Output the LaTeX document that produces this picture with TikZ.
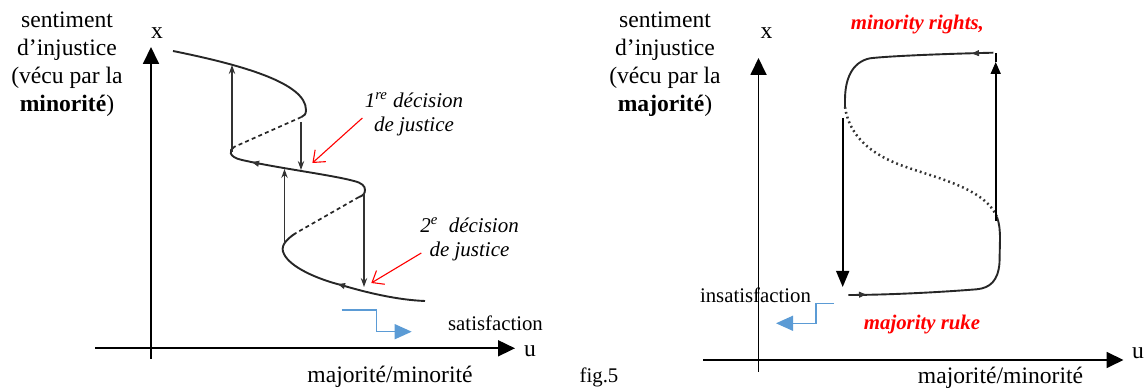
\documentclass[tikz,border=0pt]{standalone}
\usepackage{fontspec}
\setmainfont{Liberation Serif}
\usetikzlibrary{arrows.meta, positioning}

\definecolor{stepblue}{RGB}{91,155,213}

\begin{document}
\begin{tikzpicture}[
    x=0.5pt, y=0.5pt,
    axis/.style={line width=0.9pt, -{Triangle[length=8.5pt, width=8pt]}},
    curve/.style={line width=0.95pt, draw=black!85},
    hidden/.style={line width=0.85pt, draw=black!85, dash pattern=on 2pt off 1.6pt},
    dots/.style={line width=1.25pt, draw=black!80, dash pattern=on 0.9pt off 1.6pt},
    jump/.style={line width=0.65pt, draw=black!80, -{Stealth[length=4.5pt, width=3.2pt]}},
    bigjump/.style={line width=0.8pt, -{Triangle[length=8pt, width=6.5pt]}},
    tick/.style={draw=black!80, -{Triangle[length=3.5pt, width=3pt]}},
    redarrow/.style={draw=red, line width=0.55pt, -{Straight Barb[length=5pt, width=8pt]}},
    bluearrow/.style={draw=stepblue, line width=0.65pt, -{Triangle[length=8.5pt, width=7.5pt]}},
    lbl/.style={inner sep=0pt, align=center, font=\fontsize{11.8}{14}\selectfont},
    small/.style={inner sep=0pt, align=center, font=\fontsize{10.4}{12}\selectfont},
    note/.style={inner sep=0pt, align=center, font=\fontsize{10.5}{12}\selectfont\itshape},
    rednote/.style={inner sep=0pt, text=red, font=\fontsize{10.4}{12}\selectfont\bfseries\itshape},
]
\useasboundingbox (0,0) rectangle (1146,389);

% Left graph: axes
\coordinate (lo1) at (151,30);
\coordinate (ltop) at (151,342);
\coordinate (lx0) at (95,40.7);
\coordinate (lx1) at (515,40.7);
\draw[axis] (lo1) -- (ltop);
\draw[axis] (lx0) -- (lx1);
\node[lbl] (lxlab) at (157,356) {x};
\node[lbl] (lulab) at (530,38) {u};
\node[lbl] (lhoriz) at (390,12) {majorité/minorité};
\node[lbl] (lvert) at (67,325) {sentiment\\d’injustice\\(vécu par la\\\textbf{minorité})};

% Left graph: folded curve
\coordinate (a0) at (173,338);
\coordinate (a1) at (306,279);
\coordinate (a2) at (301.5,272);
\coordinate (a3) at (234,242);
\coordinate (a4) at (242,229);
\coordinate (a5) at (365,199);
\coordinate (a6) at (359,192);
\coordinate (a7) at (296,156);
\coordinate (a8) at (284,135);
\coordinate (a9) at (341,104);
\coordinate (a10) at (425,88);
\draw[curve] (a0) .. controls (242,324) and (306,306) .. (a1)
    .. controls (306,275) and (304.5,273) .. (a2);
\draw[hidden] (a2) -- (a3);
\draw[curve] (a3) .. controls (229,239) and (228,232) .. (a4)
    .. controls (277,221) and (332,214) .. (354,208)
    .. controls (362,206) and (365,203) .. (a5)
    .. controls (365,195) and (362.5,193) .. (a6);
\draw[hidden] (a6) -- (a7);
\draw[curve] (a7) .. controls (285,149) and (280,142) .. (a8)
    .. controls (290,122) and (317,110) .. (a9)
    .. controls (368,96) and (398,89) .. (a10);

% Direction marks on the curve
\coordinate (m1a) at (260,225);
\coordinate (m1b) at (252,226.8);
\coordinate (m2a) at (346,102.6);
\coordinate (m2b) at (338,104.9);
\draw[tick] (m1a) -- (m1b);
\draw[tick] (m2a) -- (m2b);

% Jumps
\coordinate (u1b) at (232,237);
\coordinate (u1t) at (232,324);
\coordinate (d1t) at (301,267);
\coordinate (d1b) at (301,219);
\coordinate (u2b) at (284.5,144);
\coordinate (u2t) at (284.5,220);
\coordinate (d2t) at (364,196);
\coordinate (d2b) at (364,102);
\draw[jump] (u1b) -- (u1t);
\draw[jump] (d1t) -- (d1b);
\draw[jump] (u2b) -- (u2t);
\draw[jump] (d2t) -- (d2b);

% Decisions
\node[note] (dec1) at (414,275) {1\textsuperscript{re} décision\\de justice};
\node[note] (dec2) at (469.5,150) {2\textsuperscript{e}\ \ décision\\de justice};
\coordinate (r1s) at (362.4,271);
\coordinate (r1e) at (312.4,226);
\coordinate (r2s) at (421.3,136);
\coordinate (r2e) at (371.3,106);
\draw[redarrow] (r1s) -- (r1e);
\draw[redarrow] (r2s) -- (r2e);

% Satisfaction
\node[small] (sat) at (495.5,66) {satisfaction};
\coordinate (s0) at (341.7,79);
\coordinate (s1) at (376.7,79);
\coordinate (s2) at (376.7,57.3);
\coordinate (s3) at (411.7,57.3);
\draw[bluearrow] (s0) -- (s1) -- (s2) -- (s3);

\node[small] (fig) at (599,12) {fig.5};

% Right graph: axes
\coordinate (ro1) at (758.5,17.3);
\coordinate (rtop) at (758.5,331);
\coordinate (rx0) at (703,29);
\coordinate (rx1) at (1123.5,29);
\draw[axis] (ro1) -- (rtop);
\draw[axis] (rx0) -- (rx1);
\node[lbl] (rxlab) at (766.5,356) {x};
\node[lbl] (rulab) at (1138,36) {u};
\node[lbl] (rhoriz) at (1000.5,11) {majorité/minorité};
\node[lbl] (rvert) at (665,325) {sentiment\\d’injustice\\(vécu par la\\\textbf{majorité})};

% Right graph: hysteresis loop
\coordinate (b0) at (993.3,336.3);
\coordinate (b1) at (870,330.7);
\coordinate (b2) at (845,289);
\coordinate (b3) at (845,282);
\coordinate (b4) at (906,222);
\coordinate (b5) at (997,172);
\coordinate (b7) at (999.5,126);
\coordinate (b8) at (976.7,99.7);
\coordinate (b9) at (848.3,94);
\draw[curve] (b0) .. controls (940,335) and (890,333) .. (b1)
    .. controls (852,327) and (845,310) .. (b2) -- (b3);
\draw[dots] (b3) .. controls (849,255) and (868,235) .. (b4)
    .. controls (940,210) and (985,200) .. (b5);
\draw[curve] (b5) .. controls (999.5,165) and (1000,158) .. (1000,150) -- (b7)
    .. controls (998,108) and (990,101) .. (b8)
    .. controls (930,96) and (880,94) .. (b9);

% Direction marks on the loop
\coordinate (n1a) at (856,94.2);
\coordinate (n1b) at (866,94.5);
\coordinate (n2a) at (982,336);
\coordinate (n2b) at (972,335.5);
\draw[tick] (n1a) -- (n1b);
\draw[tick] (n2a) -- (n2b);

% Jumps of the loop
\coordinate (v1t) at (842.7,271);
\coordinate (v1b) at (842.7,102);
\coordinate (v2b) at (995.7,168);
\coordinate (v2m) at (995.7,327);
\coordinate (v2t) at (995.7,336.3);
\draw[bigjump] (v1t) -- (v1b);
\draw[line width=0.8pt, -{Triangle[length=6pt, width=5pt]}] (v2b) -- (v2m);
\draw[line width=0.8pt] (v2m) -- (v2t);

% Labels of the loop
\node[rednote] (minr) at (917.4,364) {minority rights,};
\node[rednote] (majr) at (922,64) {majority ruke};
\node[small] (insat) at (755.5,94) {insatisfaction};
\coordinate (t0) at (834,85.7);
\coordinate (t1) at (816,85.7);
\coordinate (t2) at (816,65.7);
\coordinate (t3) at (776,65.7);
\draw[bluearrow] (t0) -- (t1) -- (t2) -- (t3);

\end{tikzpicture}
\end{document}
